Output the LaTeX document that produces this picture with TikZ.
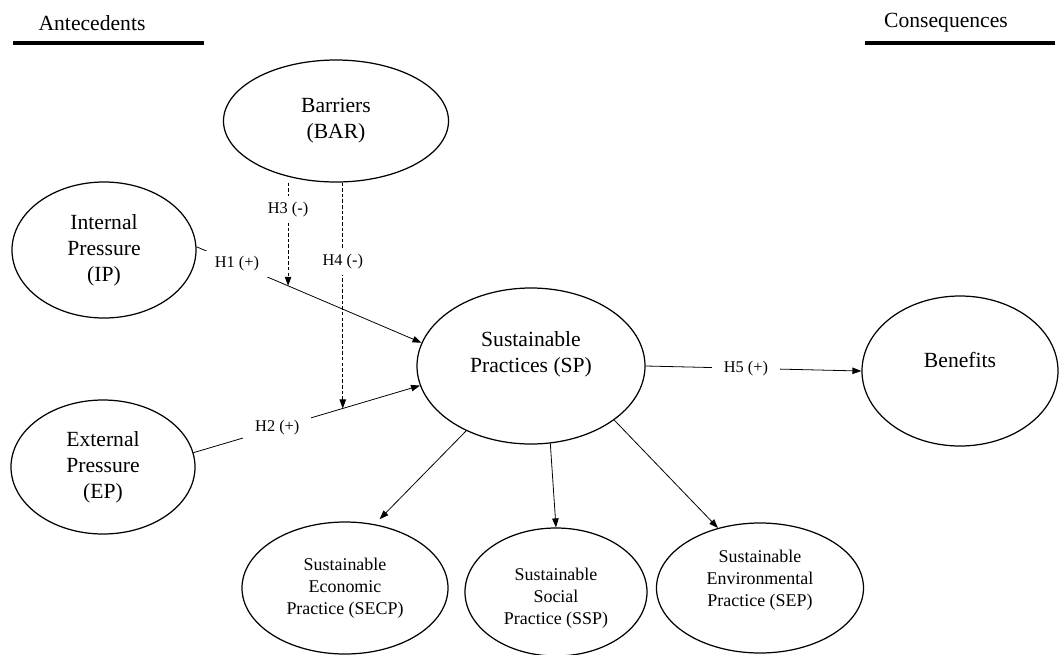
\documentclass[tikz,border=0pt]{standalone}
\usepackage{fontspec}
\setmainfont{Liberation Serif}
\usetikzlibrary{shapes.geometric,arrows.meta}
\newcommand{\bigfont}{\fontsize{12.3}{14.8}\selectfont}
\newcommand{\smallfont}{\fontsize{10.2}{12.4}\selectfont}
\newcommand{\hypfont}{\fontsize{9.3}{11}\selectfont}

\begin{document}
\begin{tikzpicture}[x=0.2mm,y=-0.2mm,
	oval/.style={draw,ellipse,line width=0.7pt,inner sep=0pt,align=center,font=\bigfont},
	smalloval/.style={oval,font=\smallfont},
	link/.style={line width=0.45pt,-{Triangle[length=1.8mm,width=1.3mm]}},
	moderate/.style={link,dash pattern=on 2pt off 1.2pt},
	hyp/.style={fill=white,inner xsep=2.4mm,inner ysep=1.2mm,font=\hypfont},
	txt/.style={align=center,font=\bigfont},
	smalltxt/.style={align=center,font=\smallfont}]
	\useasboundingbox (0,0) rectangle (1060,654);
	\node[font=\bigfont] (ante) at (92,23) {Antecedents};
	\node[font=\bigfont] (cons) at (946,23) {Consequences};
	\draw[line width=2pt] (13,43) -- (204,43);
	\draw[line width=2pt] (865,43) -- (1055,43);
	\node[oval,minimum width=45mm,minimum height=24.4mm] (bar) at (336,121) {Barriers\\(BAR)};
	\node[oval,minimum width=36.8mm,minimum height=27.2mm] (ip) at (104,250) {Internal\\Pressure\\(IP)};
	\node[oval,minimum width=36.8mm,minimum height=26.8mm] (ep) at (103,467) {External\\Pressure\\(EP)};
	\node[oval,minimum width=45.6mm,minimum height=31.2mm,
		label={[txt,yshift=2.4mm]center:Sustainable\\Practices (SP)}] (sp) at (531,366) {};
	\node[oval,minimum width=39.2mm,minimum height=30mm,
		label={[txt,yshift=2.2mm]center:Benefits}] (ben) at (960,371) {};
	\node[smalloval,minimum width=41.2mm,minimum height=26.4mm] (secp) at (345,588) {Sustainable\\Economic\\Practice (SECP)};
	\node[smalloval,minimum width=36.4mm,minimum height=25.6mm,
		label={[smalltxt,yshift=-1.2mm]center:Sustainable\\Social\\Practice (SSP)}] (ssp) at (556,592) {};
	\node[smalloval,minimum width=41.4mm,minimum height=26mm,
		label={[smalltxt,yshift=1.6mm]center:Sustainable\\Environmental\\Practice (SEP)}] (sep) at (760,588) {};
	\draw[link] (ip.2) -- (sp.168) coordinate[pos=0.407] (h1x) node[hyp,pos=0.18] {H1 (+)};
	\draw[link] (ep.9) -- (sp.190) coordinate[pos=0.659] (h2x) node[hyp,pos=0.37] {H2 (+)};
	\draw[moderate] (bar.south -| h1x) -- (h1x) node[hyp,pos=0.26] {H3 (-)};
	\draw[moderate] (bar.south -| h2x) -- (h2x) node[hyp,pos=0.35] {H4 (-)};
	\draw[link] (sp.east) -- (ben.west) node[hyp,pos=0.465] {H5 (+)};
	\draw[link,shorten >=1.4mm] (sp.225) -- (secp.65);
	\draw[link] (sp.284) -- (ssp.north);
	\draw[link] (sp.327) -- (sep.125);
\end{tikzpicture}
\end{document}
